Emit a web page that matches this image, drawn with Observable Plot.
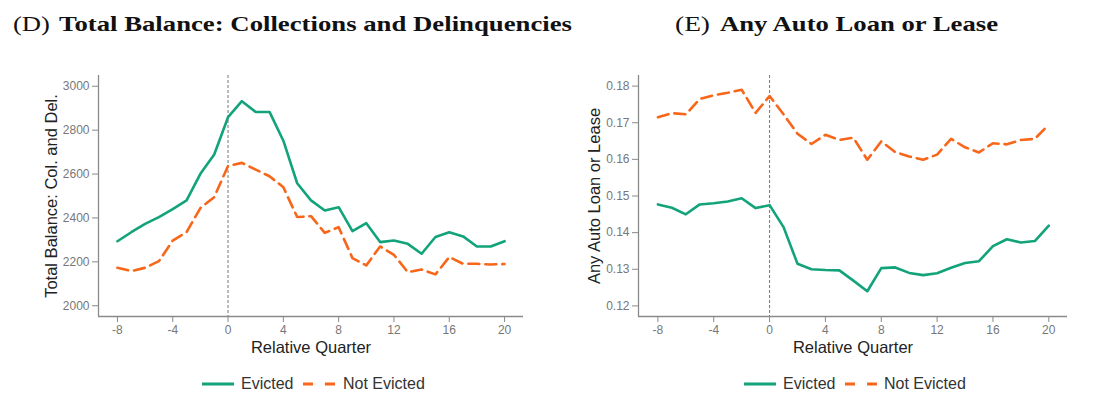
<!DOCTYPE html>
<html><head><meta charset="utf-8">
<script src="https://cdn.jsdelivr.net/npm/d3@7"></script>
<script src="https://cdn.jsdelivr.net/npm/@observablehq/plot@0.6"></script>
<style>
body{margin:0;background:#fff;}
#wrap{position:relative;width:1098px;height:415px;overflow:hidden;font-family:"Liberation Sans",Arial,sans-serif;background:#fff;}
.panel{position:absolute;top:60px;}
.lg{position:absolute;font-size:16px;color:#333;line-height:20px;white-space:nowrap;}
.sw{position:absolute;}
#titles{position:absolute;left:0;top:0;}
</style></head><body><div id="wrap"></div>
<script>
// ---- data ----
const quarters = [-8,-7,-6,-5,-4,-3,-2,-1,0,1,2,3,4,5,6,7,8,9,10,11,12,13,14,15,16,17,18,19,20];
const xTicks = [-8,-4,0,4,8,12,16,20];

const balanceEvicted = [2294,2335,2373,2404,2440,2480,2601,2689,2859,2932,2883,2883,2752,2558,2480,2434,2449,2340,2376,2290,2297,2282,2237,2313,2335,2316,2270,2270,2294];
const balanceNotEvicted = [2173,2158,2173,2203,2297,2335,2445,2495,2637,2651,2620,2590,2540,2404,2408,2332,2358,2217,2184,2270,2232,2153,2165,2143,2222,2191,2191,2188,2190];
const balanceTicks = [2000,2200,2400,2600,2800,3000];

const autoEvicted = [0.1477,0.1468,0.1450,0.1477,0.1480,0.1485,0.1494,0.1467,0.1475,0.1415,0.1315,0.1300,0.1298,0.1297,0.1269,0.1240,0.1303,0.1305,0.1290,0.1284,0.1289,0.1304,0.1317,0.1322,0.1363,0.1382,0.1373,0.1377,0.1419];
const autoNotEvicted = [0.1715,0.1726,0.1723,0.1765,0.1775,0.1782,0.1790,0.1727,0.1773,0.1723,0.1670,0.1642,0.1667,0.1653,0.1659,0.1599,0.1649,0.1620,0.1608,0.1599,0.1613,0.1656,0.1633,0.1619,0.1644,0.1641,0.1653,0.1656,0.1695];
const autoTicks = [0.12,0.13,0.14,0.15,0.16,0.17,0.18];

const seriesNames = ["Evicted","Not Evicted"];
const colors = {"Evicted":"#12a37a","Not Evicted":"#f8661a"};

const panels = [
  {left:0, title:"(D)", bold:"Total Balance: Collections and Delinquencies", ylabel:"Total Balance: Col. and Del.",
   ev:balanceEvicted, ne:balanceNotEvicted, yTicks:balanceTicks, yDomain:[1951,3049], xDomain:[-9.37,21.37],
   fmt:d=>String(d), mr:26, yOff:53},
  {left:540, title:"(E)", bold:"Any Auto Loan or Lease", ylabel:"Any Auto Loan or Lease",
   ev:autoEvicted, ne:autoNotEvicted, yTicks:autoTicks, yDomain:[0.1171,0.1829], xDomain:[-9.39,21.34],
   fmt:d=>d.toFixed(2), mr:22, yOff:50}
];

const wrap = document.getElementById("wrap");

panels.forEach(p => {
  const rows = quarters.map((q,i)=>({q, v:p.ev[i], s:"Evicted"}));
  const rowsNE = quarters.map((q,i)=>({q, v:p.ne[i], s:"Not Evicted"}));
  const chart = Plot.plot({
    width:549, height:300,
    marginLeft:98, marginRight:p.mr, marginTop:15, marginBottom:44,
    style:{fontFamily:"'Liberation Sans', Arial, sans-serif", background:"transparent"},
    x:{domain:p.xDomain},
    y:{domain:p.yDomain},
    marks:[
      Plot.ruleX([0], {stroke:"#666", strokeWidth:0.9, strokeDasharray:"3,2"}),
      Plot.line(rows, {x:"q", y:"v", stroke:colors["Evicted"], strokeWidth:2.6}),
      Plot.line(rowsNE, {x:"q", y:"v", stroke:colors["Not Evicted"], strokeWidth:2.6, strokeDasharray:"11,6"}),
      Plot.ruleX([p.xDomain[0]], {stroke:"#8a8a8a", strokeWidth:1.3}),
      Plot.ruleY([p.yDomain[0]], {stroke:"#8a8a8a", strokeWidth:1.3}),
      Plot.axisY(p.yTicks, {tickFormat:p.fmt, tickSize:6, tickPadding:3, fontSize:12, fill:"#777", stroke:"#8a8a8a", label:null}),
      Plot.axisY([], {label:p.ylabel, labelAnchor:"center", labelArrow:"none", labelOffset:p.yOff, fontSize:16.5, fill:"#222", tickSize:0}),
      Plot.axisX(xTicks, {tickFormat:d=>String(d), tickSize:6, tickPadding:3, fontSize:12, fill:"#777", stroke:"#8a8a8a", label:null}),
      Plot.axisX([], {label:"Relative Quarter", labelAnchor:"center", labelArrow:"none", labelOffset:36, fontSize:16.5, fill:"#222", tickSize:0})
    ]
  });
  chart.classList.add("panel");
  chart.style.left = p.left + "px";
  wrap.appendChild(chart);
});

// titles
const NS = "http://www.w3.org/2000/svg";
const tsvg = document.createElementNS(NS,"svg");
tsvg.setAttribute("id","titles");
tsvg.setAttribute("width",1098); tsvg.setAttribute("height",50);
const titleSpecs = [
  {x:13, w:37, text:"(D)", bold:false}, {x:59, w:513, text:panels[0].bold, bold:true},
  {x:675, w:35, text:"(E)", bold:false}, {x:720, w:278, text:panels[1].bold, bold:true}
];
titleSpecs.forEach(t=>{
  const el = document.createElementNS(NS,"text");
  el.setAttribute("x",t.x); el.setAttribute("y",30.5);
  el.setAttribute("font-family","'Liberation Serif','DejaVu Serif',serif");
  el.setAttribute("font-size",22);
  el.setAttribute("font-weight",t.bold?"bold":"normal");
  el.setAttribute("fill","#111");
  el.setAttribute("textLength",t.w);
  el.setAttribute("lengthAdjust","spacingAndGlyphs");
  el.textContent = t.text;
  tsvg.appendChild(el);
});
wrap.appendChild(tsvg);

// legends
const legendPos = [[202,241,303,343],[744,783,845,884]];
legendPos.forEach(pos=>{
  seriesNames.forEach((s,i)=>{
    const sx = pos[i*2], tx = pos[i*2+1];
    const sw = document.createElementNS(NS,"svg");
    sw.setAttribute("class","sw");
    sw.setAttribute("width",32); sw.setAttribute("height",6);
    sw.style.left = sx+"px"; sw.style.top = "381px";
    const ln = document.createElementNS(NS,"line");
    ln.setAttribute("x1",0); ln.setAttribute("x2",32); ln.setAttribute("y1",3); ln.setAttribute("y2",3);
    ln.setAttribute("stroke",colors[s]); ln.setAttribute("stroke-width",3);
    if (i===1) ln.setAttribute("stroke-dasharray","10,12");
    sw.appendChild(ln);
    wrap.appendChild(sw);
    const d = document.createElement("div");
    d.className="lg"; d.textContent=s;
    d.style.left = tx+"px"; d.style.top = "374px";
    wrap.appendChild(d);
  });
});
</script></body></html>
